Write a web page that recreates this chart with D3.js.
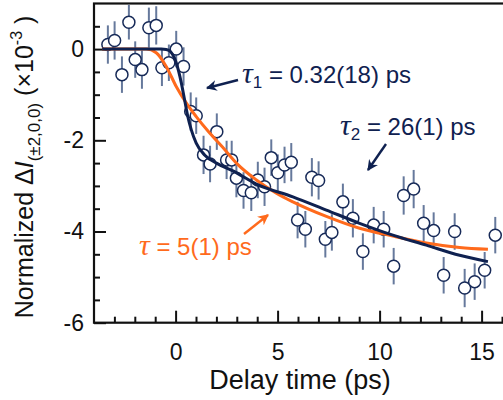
<!DOCTYPE html>
<html>
<head>
<meta charset="utf-8">
<script src="https://cdn.jsdelivr.net/npm/d3@7"></script>
<style>
  body { margin: 0; background: #fff; }
  svg { display: block; }
</style>
</head>
<body>
<div id="chart"></div>
<script>
// delay time (ps) and normalized signal (x1e-3)
const delay = [-3.32, -2.99, -2.63, -2.29, -1.98, -1.65, -1.31, -0.95, -0.67, -0.33,
  0.03, 0.39, 0.74, 1.01, 1.37, 1.69, 2.02, 2.50, 2.75, 2.98,
  3.33, 3.71, 4.03, 4.36, 4.69, 5.01, 5.34, 5.67, 5.98, 6.36,
  6.68, 7.01, 7.34, 7.66, 8.20, 8.69, 9.18, 9.71, 10.20, 10.69,
  11.18, 11.67, 12.16, 12.65, 13.14, 13.68, 14.17, 14.66, 15.15, 15.67]
const signal = [0.10, 0.19, -0.56, 0.59, -0.23, -0.45, 0.47, 0.52, -0.41, -0.30,
  0.00, -0.38, -1.37, -1.46, -2.32, -2.52, -1.81, -2.43, -2.43, -2.83,
  -3.10, -3.15, -2.87, -3.02, -2.38, -2.71, -2.54, -2.48, -3.75, -3.95,
  -2.81, -2.88, -4.17, -4.02, -3.35, -3.71, -4.44, -3.86, -3.95, -4.76,
  -3.21, -3.07, -3.82, -3.98, -4.96, -4.00, -5.24, -5.10, -4.85, -4.08]
const errors = [0.42, 0.42, 0.40, 0.38, 0.40, 0.42, 0.44, 0.42, 0.40, 0.40,
  0.40, 0.42, 0.42, 0.40, 0.42, 0.40, 0.40, 0.42, 0.42, 0.42,
  0.40, 0.40, 0.40, 0.42, 0.40, 0.40, 0.40, 0.42, 0.40, 0.40,
  0.42, 0.42, 0.40, 0.40, 0.40, 0.42, 0.40, 0.40, 0.40, 0.40,
  0.42, 0.42, 0.40, 0.40, 0.40, 0.40, 0.42, 0.40, 0.40, 0.40]

// two-exponential fit (navy)
const fit2X = [-3.6, -0.7, -0.46, -0.29, 0.03, 0.28, 0.44, 0.60, 0.77, 1.01, 1.42, 2.0, 2.81, 3.96, 5.75, 7.39, 9.02, 10.65, 12.29, 13.92, 15.31]
const fit2Y = [0, 0, -0.01, -0.04, -0.30, -0.74, -1.11, -1.48, -1.77, -2.06, -2.32, -2.50, -2.67, -2.96, -3.24, -3.53, -3.82, -4.08, -4.30, -4.52, -4.66]
// single-exponential fit (orange)
const fit1X = [-3.6, -1.44, -0.95, -0.46, 0.03, 0.52, 1.01, 1.67, 2.32, 2.98, 3.96, 4.94, 5.75, 7.39, 9.02, 10.65, 12.29, 13.92, 15.31]
const fit1Y = [0, 0, -0.08, -0.38, -0.82, -1.18, -1.48, -1.84, -2.16, -2.50, -2.87, -3.16, -3.35, -3.67, -3.93, -4.10, -4.25, -4.35, -4.39]

const xMajor = [0, 5, 10, 15]
const yMajor = [0, -2, -4, -6]

const width = 503
const height = 400
const navy = '#0f2150'
const orange = '#ff6a1c'
const errColor = '#66799c'
const font = "'Liberation Sans', Arial, sans-serif"

const svg = d3.select('#chart')
  .append('svg')
  .attr('width', width)
  .attr('height', height)
  .style('font-family', font)

const x = d3.scaleLinear().domain([-4, 16]).range([94, 502])
const y = d3.scaleLinear().domain([-6, 1]).range([322.7, 3.5])

// minor ticks
const xMinor = d3.range(-3, 17).filter(v => !xMajor.includes(v))
const yMinor = d3.range(-5.5, 1, 0.5).filter(v => !yMajor.includes(v))

svg.append('g')
  .attr('transform', `translate(0,${y(-6)})`)
  .call(d3.axisBottom(x).tickValues(xMinor).tickSize(-6).tickFormat(''))
  .call(g => g.select('.domain').remove())
svg.append('g')
  .attr('transform', `translate(0,${y(-6)})`)
  .call(d3.axisBottom(x).tickValues(xMajor).tickSize(-12).tickPadding(21))
  .call(g => g.select('.domain').remove())
  .call(g => g.selectAll('text').attr('font-size', 23).attr('font-family', font).attr('fill', '#111'))

svg.append('g')
  .attr('transform', `translate(${x(-4)},0)`)
  .call(d3.axisLeft(y).tickValues(yMinor).tickSize(-6).tickFormat(''))
  .call(g => g.select('.domain').remove())
svg.append('g')
  .attr('transform', `translate(${x(-4)},0)`)
  .call(d3.axisLeft(y).tickValues(yMajor).tickSize(-12).tickPadding(10).tickFormat(d => String(d)))
  .call(g => g.select('.domain').remove())
  .call(g => g.selectAll('text').attr('font-size', 23).attr('font-family', font).attr('fill', '#111'))

svg.selectAll('.tick line').attr('stroke', '#111').attr('stroke-width', 2)

// frame
svg.append('rect')
  .attr('x', x(-4))
  .attr('y', y(1))
  .attr('width', x(16) - x(-4) + 4)
  .attr('height', y(-6) - y(1))
  .attr('fill', 'none')
  .attr('stroke', '#111')
  .attr('stroke-width', 2.2)

const pts = delay.map((d, i) => ({ t: d, v: signal[i], e: errors[i] }))

// error bars
svg.append('g')
  .selectAll('line')
  .data(pts)
  .join('line')
  .attr('x1', d => x(d.t))
  .attr('x2', d => x(d.t))
  .attr('y1', d => y(d.v + d.e))
  .attr('y2', d => y(d.v - d.e))
  .attr('stroke', errColor)
  .attr('stroke-width', 2)

// markers
svg.append('g')
  .selectAll('circle')
  .data(pts)
  .join('circle')
  .attr('cx', d => x(d.t))
  .attr('cy', d => y(d.v))
  .attr('r', 6)
  .attr('fill', '#fff')
  .attr('stroke', '#172a58')
  .attr('stroke-width', 1.5)

// fits
const line = d3.line()
  .x(d => x(d[0]))
  .y(d => y(d[1]))
  .curve(d3.curveMonotoneX)

svg.append('path')
  .datum(fit1X.map((d, i) => [d, fit1Y[i]]))
  .attr('d', line)
  .attr('fill', 'none')
  .attr('stroke', orange)
  .attr('stroke-width', 3)

svg.append('path')
  .datum(fit2X.map((d, i) => [d, fit2Y[i]]))
  .attr('d', line)
  .attr('fill', 'none')
  .attr('stroke', navy)
  .attr('stroke-width', 3)

// arrows
const defs = svg.append('defs')
function marker (id, color) {
  defs.append('marker')
    .attr('id', id)
    .attr('viewBox', '0 0 10 10')
    .attr('refX', 9)
    .attr('refY', 5)
    .attr('markerWidth', 4.5)
    .attr('markerHeight', 4.5)
    .attr('orient', 'auto')
    .append('path')
    .attr('d', 'M0,0 L10,5 L0,10 L3,5 Z')
    .attr('fill', color)
}
marker('headNavy', navy)
marker('headOrange', orange)

const arrows = [
  { x1: 238, y1: 80, x2: 207, y2: 88, c: navy, m: 'headNavy' },
  { x1: 386, y1: 144, x2: 368, y2: 170, c: navy, m: 'headNavy' },
  { x1: 244, y1: 234, x2: 268, y2: 215, c: orange, m: 'headOrange' }
]
svg.append('g')
  .selectAll('line')
  .data(arrows)
  .join('line')
  .attr('x1', d => d.x1)
  .attr('y1', d => d.y1)
  .attr('x2', d => d.x2)
  .attr('y2', d => d.y2)
  .attr('stroke', d => d.c)
  .attr('stroke-width', 2.4)
  .attr('marker-end', d => `url(#${d.m})`)

// annotations
function tauLabel (px, py, sub, rest, color) {
  const t = svg.append('text')
    .attr('x', px)
    .attr('y', py)
    .attr('fill', color)
    .attr('font-size', 24)
  t.append('tspan')
    .attr('font-family', "'Liberation Serif', 'Times New Roman', serif")
    .attr('font-style', 'italic')
    .attr('font-size', 30)
    .text('τ')
  if (sub) {
    t.append('tspan').attr('font-size', 17).attr('dy', 5).text(sub)
    t.append('tspan').attr('dy', -5).text(rest)
  } else {
    t.append('tspan').text(rest)
  }
}
tauLabel(242, 83, '1', ' = 0.32(18) ps', navy)
tauLabel(340, 135, '2', ' = 26(1) ps', navy)
tauLabel(139, 255, null, ' = 5(1) ps', orange)

// axis titles
svg.append('text')
  .attr('x', 300)
  .attr('y', 389)
  .attr('text-anchor', 'middle')
  .attr('font-size', 27)
  .attr('fill', '#111')
  .text('Delay time (ps)')

const yl = svg.append('text')
  .attr('transform', 'translate(33,167) rotate(-90)')
  .attr('text-anchor', 'middle')
  .attr('font-size', 25)
  .attr('fill', '#111')
yl.append('tspan').text('Normalized Δ')
yl.append('tspan').attr('font-style', 'italic').text('I')
yl.append('tspan').attr('font-size', 17).attr('dy', 7).text('(±2,0,0)')
yl.append('tspan').attr('dy', -7).text(' (×10')
yl.append('tspan').attr('font-size', 16).attr('dy', -11).text('-3')
yl.append('tspan').attr('dy', 11).text(' )')
</script>
</body>
</html>
